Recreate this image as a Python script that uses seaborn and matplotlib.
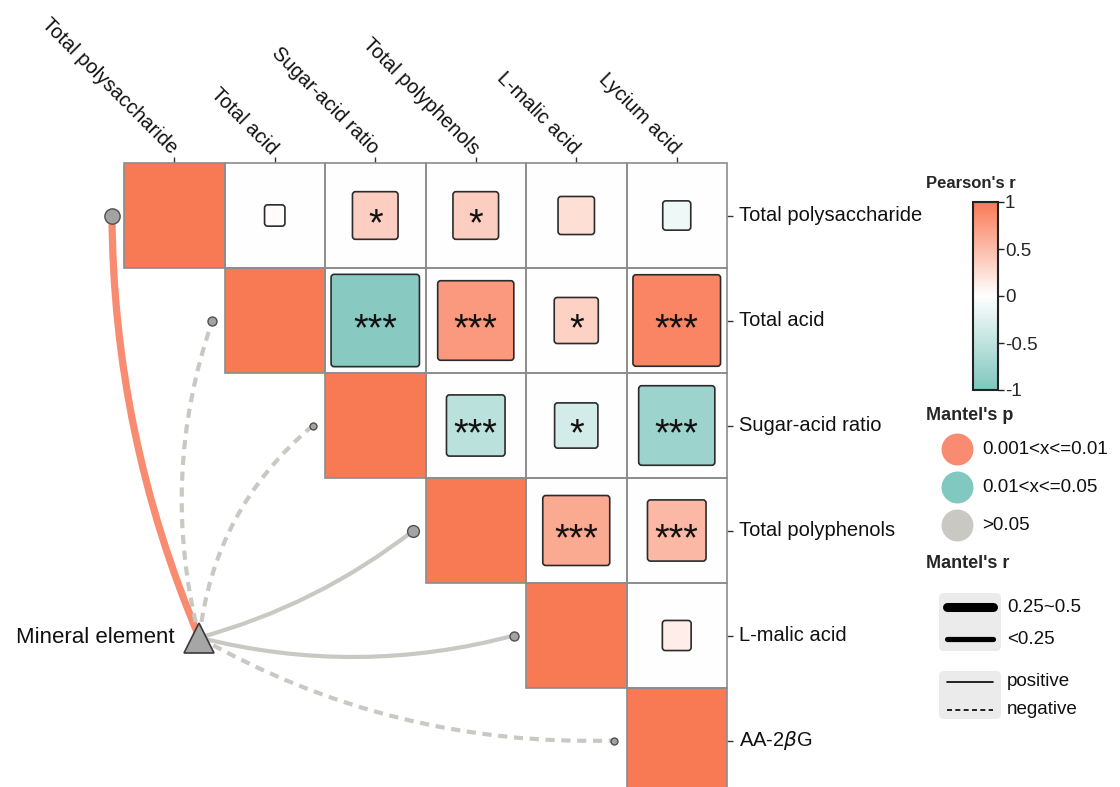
import matplotlib.pyplot as plt
import numpy as np
import pandas as pd
import seaborn as sns
from matplotlib.colors import LinearSegmentedColormap
from matplotlib.patches import FancyArrowPatch, FancyBboxPatch, Rectangle

sns.set_theme(style="white")
plt.rcParams["font.family"] = ["Liberation Sans", "DejaVu Sans"]

# --- data ---
col_labels = ["Total polysaccharide", "Total acid", "Sugar-acid ratio",
              "Total polyphenols", "L-malic acid", "Lycium acid"]
row_labels = ["Total polysaccharide", "Total acid", "Sugar-acid ratio",
              "Total polyphenols", "L-malic acid", "AA-2$\\beta$G"]

# Pearson's r, upper triangle (row i starts at the diagonal)
pearson_r = [
    [1, 0.03, 0.36, 0.36, 0.24, -0.13],
    [1, -0.92, 0.76, 0.34, 0.91],
    [1, -0.53, -0.33, -0.76],
    [1, 0.64, 0.53],
    [1, 0.14],
    [1],
]
signif = [
    ["", "", "*", "*", "", ""],
    ["", "***", "***", "*", "***"],
    ["", "***", "*", "***"],
    ["", "***", "***"],
    ["", ""],
    [""],
]

# Mantel test: Mineral element vs each variable
env_name = "Mineral element"
mantel_r_cat = ["0.25~0.5", "<0.25", "<0.25", "<0.25", "<0.25", "<0.25"]
mantel_p_cat = ["0.001<x<=0.01", ">0.05", ">0.05", ">0.05", ">0.05", ">0.05"]
mantel_sign = ["positive", "negative", "negative", "positive", "positive", "negative"]
node_size = [11, 6.5, 5, 8.5, 6.5, 5]
curvature = [-0.1, -0.15, -0.2, 0.1, 0.13, 0.14]

p_colors = {"0.001<x<=0.01": "#F98B71", "0.01<x<=0.05": "#80C8C0", ">0.05": "#C9C8C2"}
r_widths = {"0.25~0.5": 5.2, "<0.25": 3.0}
styles = {"positive": "-", "negative": (0, (2.2, 1.6))}

n = len(row_labels)
r_mat = np.full((n, n), np.nan)
for i, row in enumerate(pearson_r):
    r_mat[i, i:] = row

cmap = LinearSegmentedColormap.from_list("pr", ["#7EC6BD", "#FFFFFF", "#F87A55"])

fig = plt.figure(figsize=(11.2, 7.87), dpi=100)
ax = fig.add_axes([124 / 1120, -6 / 787, 603 / 1120, 630 / 787])
cax = fig.add_axes([973 / 1120, (787 - 390) / 787, 25 / 1120, 188 / 787])

# background: diagonal filled, other upper cells white
bg = np.where(np.eye(n, dtype=bool), r_mat, 0.0)
mask = np.tril(np.ones((n, n), dtype=bool), -1)
sns.heatmap(pd.DataFrame(bg, index=row_labels, columns=col_labels), mask=mask,
            cmap=cmap, vmin=-1, vmax=1, linewidths=0, ax=ax, cbar_ax=cax)

# cell borders only on the upper triangle
for i in range(n):
    for j in range(i, n):
        ax.add_patch(Rectangle((j, i), 1, 1, facecolor="none", edgecolor="#8c8c8c",
                               lw=1.2, clip_on=False, zorder=2))

# sized squares for off-diagonal correlations
for i in range(n):
    for j in range(i + 1, n):
        r = r_mat[i, j]
        side = 0.18 + 0.76 * abs(r)
        sq = FancyBboxPatch((j + 0.5 - side / 2, i + 0.5 - side / 2), side, side,
                            boxstyle="round,pad=0,rounding_size=0.03",
                            facecolor=cmap((r + 1) / 2), edgecolor="#2b2b2b", lw=1.2,
                            zorder=3)
        ax.add_patch(sq)
        s = signif[i][j - i]
        if s:
            ax.annotate(s, (j + 0.5, i + 0.5), xytext=(0, -14.5), textcoords="offset points",
                        ha="center", va="baseline", fontsize=27, color="#111111", zorder=4)

# axes ticks and labels
ax.xaxis.tick_top()
ax.yaxis.tick_right()
ax.tick_params(axis="x", top=True, bottom=False, labeltop=True, labelbottom=False,
               length=4.5, width=1, color="#333333", labelsize=14.5, pad=4)
ax.tick_params(axis="y", right=True, left=False, labelright=True, labelleft=False,
               length=4.5, width=1, color="#333333", labelsize=14.5, pad=4)
plt.setp(ax.get_xticklabels(), rotation=-45, ha="right", va="center",
         rotation_mode="anchor")
plt.setp(ax.get_yticklabels(), rotation=0, va="center")
for lab in ax.get_xticklabels() + ax.get_yticklabels():
    lab.set_color("#111111")

# mantel links
node = (0.75, 4.52)
for k in range(n):
    end = (k - 0.12, k + 0.5)
    link = FancyArrowPatch(node, end, connectionstyle=f"arc3,rad={curvature[k]}",
                           arrowstyle="-", color=p_colors[mantel_p_cat[k]],
                           lw=r_widths[mantel_r_cat[k]], linestyle=styles[mantel_sign[k]],
                           shrinkA=0, shrinkB=0, capstyle="butt", clip_on=False, zorder=5)
    ax.add_patch(link)
    ax.plot(*end, "o", ms=node_size[k], mfc="#A3A3A3", mec="#505050", mew=1,
            clip_on=False, zorder=6)
ax.plot(*node, "^", ms=22, mfc="#A6A6A6", mec="#3a3a3a", mew=1.2, clip_on=False, zorder=7)
ax.annotate(env_name, node, xytext=(-18, 0), textcoords="offset points",
            ha="right", va="center", fontsize=16, color="#111111")

# colorbar
cbar = ax.collections[0].colorbar
cbar.set_ticks([1, 0.5, 0, -0.5, -1])
cbar.set_ticklabels(["1", "0.5", "0", "-0.5", "-1"])
cbar.outline.set_edgecolor("#222222")
cbar.outline.set_linewidth(1.5)
cax.tick_params(length=4, width=1, color="#222222", labelsize=13.5, pad=1)

# legends (drawn in pixel space on an overlay)
lax = fig.add_axes([0, 0, 1, 1], facecolor="none")
lax.set_xlim(0, 1120)
lax.set_ylim(787, 0)
lax.axis("off")
lax.text(926, 184, "Pearson's r", fontsize=12, fontweight="bold", va="center")
lax.text(926, 415, "Mantel's p", fontsize=13, fontweight="bold", va="center")
for y, lab in zip([449, 487, 525], p_colors):
    lax.plot(957, y, "o", ms=23, mfc=p_colors[lab], mec="none")
    lax.text(982, y, lab, fontsize=13.5, va="center", color="#111111")

lax.text(926, 563, "Mantel's r", fontsize=13, fontweight="bold", va="center")
for box_y, box_h in [(593, 58), (671, 48)]:
    lax.add_patch(FancyBboxPatch((939, box_y), 62, box_h,
                                 boxstyle="round,pad=0,rounding_size=5",
                                 facecolor="#EBEBEB", edgecolor="none"))
for y, lab in zip([607, 639], r_widths):
    lax.plot([947, 993], [y, y], color="black", lw=r_widths[lab] * 1.25,
             solid_capstyle="round")
    lax.text(1007, y, lab, fontsize=13.5, va="center", color="#111111")
for y, lab in zip([682, 710], styles):
    lax.plot([947, 993], [y, y], color="black", lw=1.2,
             linestyle="-" if lab == "positive" else (0, (3, 2)))
    lax.text(1007, y, lab, fontsize=13.5, va="center", color="#111111")

fig.savefig("out.png", dpi=100)
